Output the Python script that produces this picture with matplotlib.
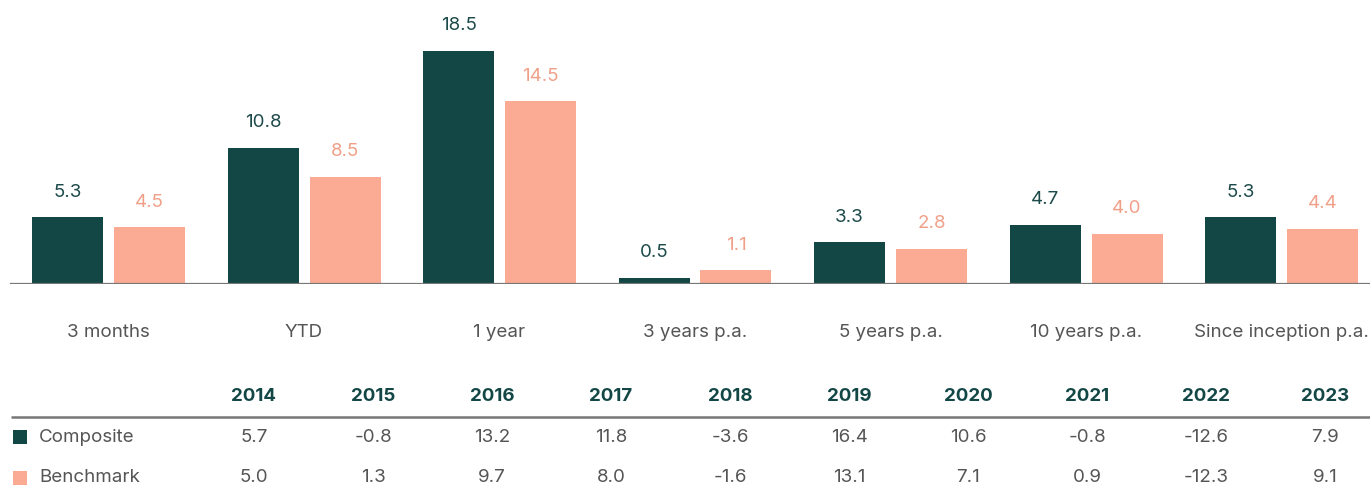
import numpy as np
import matplotlib
matplotlib.use("Agg")
import matplotlib.pyplot as plt

plt.rcParams['font.family'] = ['Inter', 'DejaVu Sans']

# ---- data ----
periods = ['3 months', 'YTD', '1 year', '3 years p.a.', '5 years p.a.',
           '10 years p.a.', 'Since inception p.a.']
composite = [5.3, 10.8, 18.5, 0.5, 3.3, 4.7, 5.3]
benchmark = [4.5, 8.5, 14.5, 1.1, 2.8, 4.0, 4.4]

years = ['2014', '2015', '2016', '2017', '2018', '2019', '2020', '2021', '2022', '2023']
comp_yearly = [5.7, -0.8, 13.2, 11.8, -3.6, 16.4, 10.6, -0.8, -12.6, 7.9]
bench_yearly = [5.0, 1.3, 9.7, 8.0, -1.6, 13.1, 7.1, 0.9, -12.3, 9.1]

GREEN = '#134746'
SALMON = '#fbab94'
SALMON_TXT = '#f0a088'
GREY = '#555555'
LINE = '#777777'

W, H = 1370, 494
fig = plt.figure(figsize=(W / 100, H / 100), dpi=100)

# ---- bar chart ----
base_px = 284
top_px = 8
ax = fig.add_axes([0, 1 - base_px / H, 1, (base_px - top_px) / H])
pitch = 195.5
first = 108.5
ax.set_xlim(-first / pitch, (W - first) / pitch)
ax.set_ylim(0, (base_px - top_px) / 12.6)

x = np.arange(len(periods))
bw = 71 / pitch
off = 41 / pitch
b1 = ax.bar(x - off, composite, bw, color=GREEN)
b2 = ax.bar(x + off, benchmark, bw, color=SALMON)

for rect, v in zip(b1, composite):
    ax.annotate(f'{v:.1f}', (rect.get_x() + rect.get_width() / 2, v),
                xytext=(0, 18), textcoords='offset points',
                ha='center', va='center', fontsize=13.5, color='#1d4a4a')
for rect, v in zip(b2, benchmark):
    ax.annotate(f'{v:.1f}', (rect.get_x() + rect.get_width() / 2, v),
                xytext=(0, 18), textcoords='offset points',
                ha='center', va='center', fontsize=13.5, color=SALMON_TXT)

ax.axhline(0, xmin=11 / W, xmax=1, color=LINE, lw=1.6)
for s in ax.spines.values():
    s.set_visible(False)
ax.set_yticks([])
ax.set_xticks(x)
ax.set_xticklabels(periods, fontsize=13.5, color=GREY)
ax.tick_params(axis='x', length=0, pad=29)

# ---- yearly table ----
tax = fig.add_axes([0, 0, 1, 124 / H])
col0, cpitch = 254, 119
rpitch = 40.5
tax.set_xlim(-col0 / cpitch, (W - col0) / cpitch)
tax.set_ylim((494 - 396.5) / rpitch, (370 - 396.5) / rpitch)
tax.axis('off')

for i, yr in enumerate(years):
    tax.text(i, 0, yr, ha='center', va='center', fontsize=13.5,
             fontweight='bold', color=GREEN)
    tax.text(i, 1, f'{comp_yearly[i]:.1f}', ha='center', va='center',
             fontsize=13.5, color=GREY)
    tax.text(i, 2, f'{bench_yearly[i]:.1f}', ha='center', va='center',
             fontsize=13.5, color=GREY)

tax.plot([(11 - col0) / cpitch, (W - col0) / cpitch], [0.5, 0.5],
         color=LINE, lw=1.8, solid_capstyle='butt')

sq_x = (19.5 - col0) / cpitch
lab_x = (39 - col0) / cpitch
for row, name, c in [(1, 'Composite', GREEN), (2, 'Benchmark', SALMON)]:
    tax.scatter([sq_x], [row], marker='s', s=90, color=c, linewidths=0)
    tax.text(lab_x, row, name, ha='left', va='center', fontsize=13.5, color=GREY)

fig.savefig('out.png', dpi=100)
